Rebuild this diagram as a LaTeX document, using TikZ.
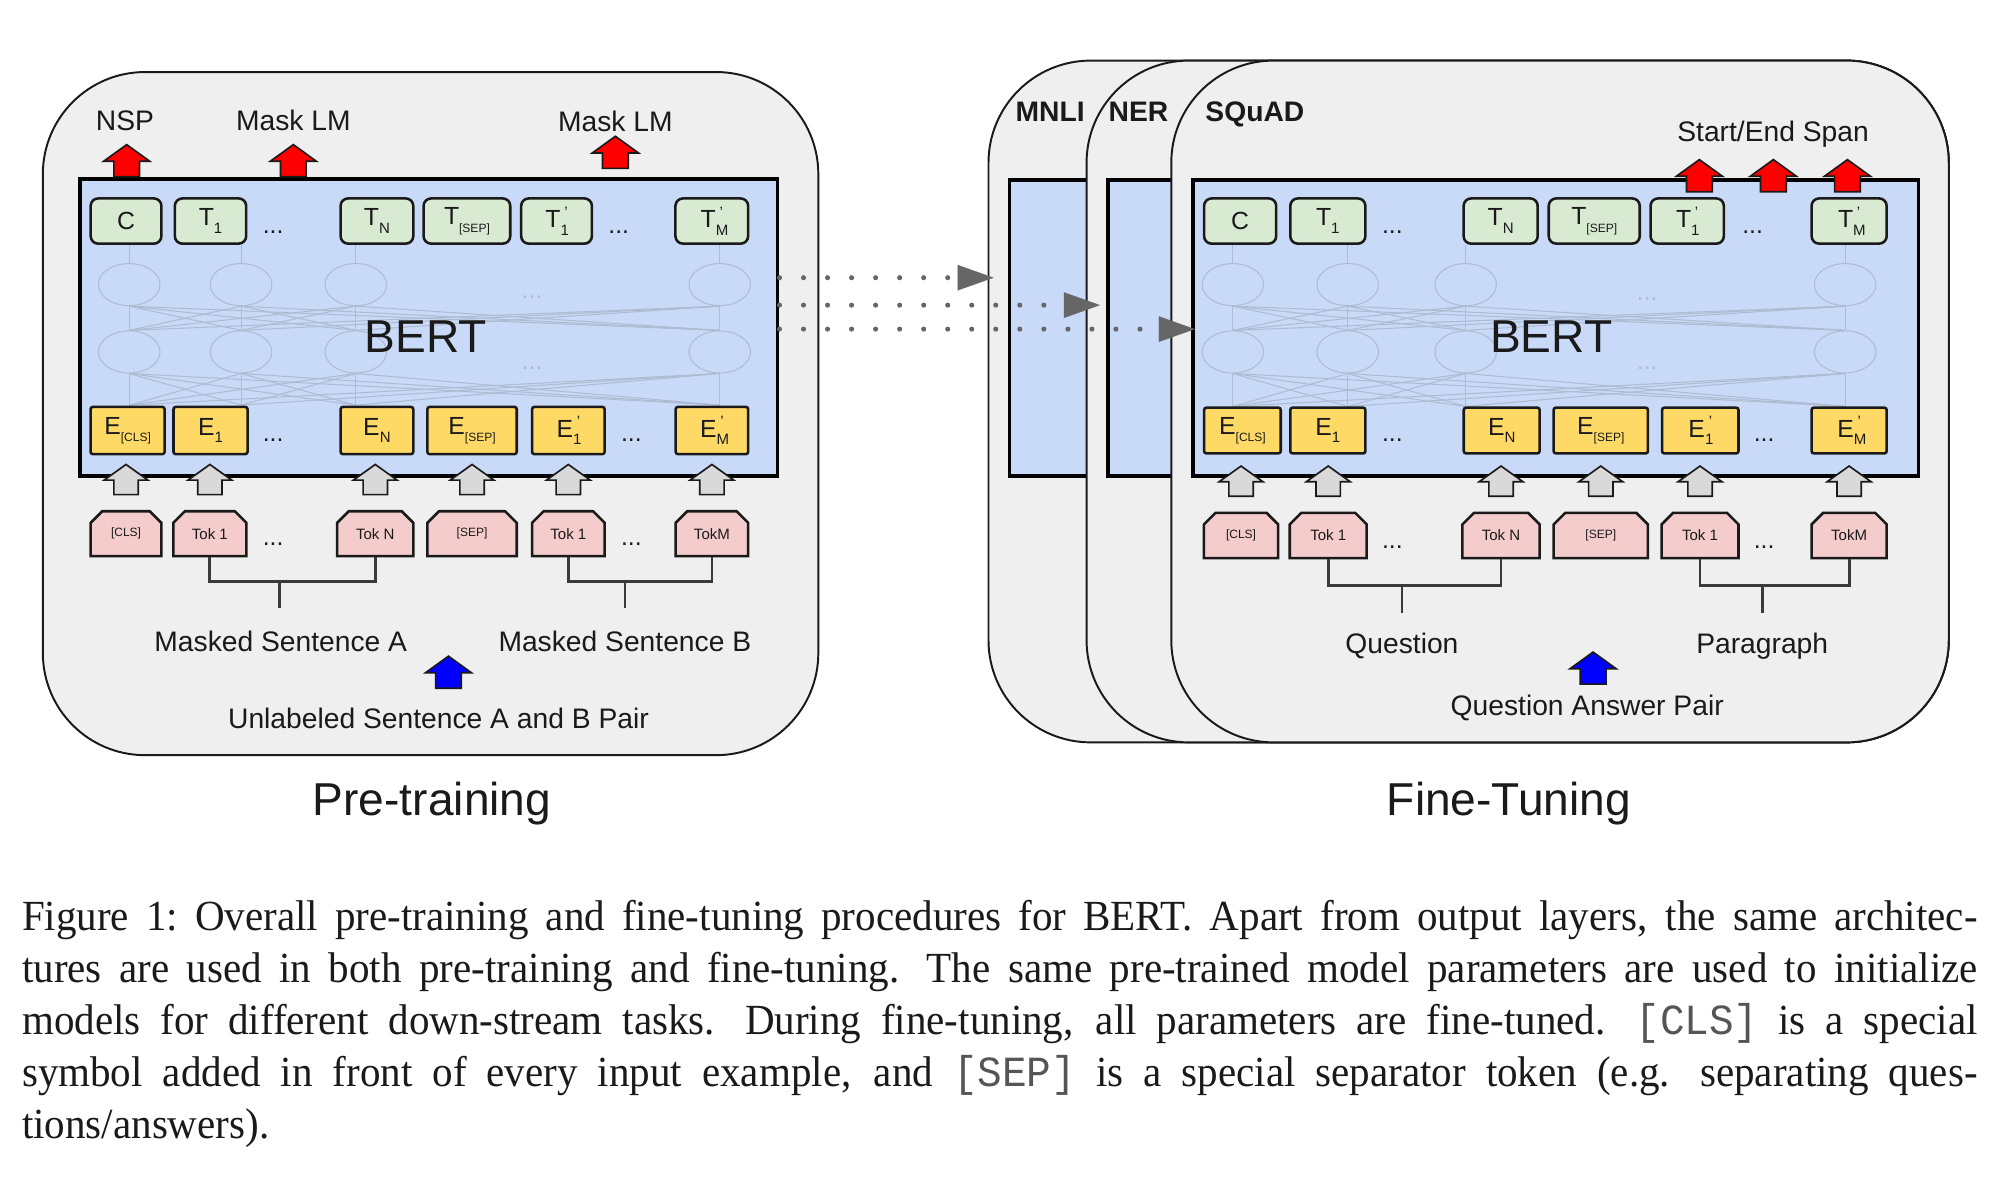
\documentclass[tikz,border=0pt]{standalone}
\usepackage{fontspec}
\setmainfont{Liberation Serif}
\setsansfont{Liberation Sans}
\setmonofont{Liberation Mono}
\newfontfamily\capff[FakeStretch=0.955]{Liberation Serif}
\newfontfamily\capmono[FakeStretch=0.955]{Liberation Mono}
\usetikzlibrary{shapes.misc,shapes.geometric,arrows.meta,calc}
\definecolor{ink}{HTML}{1A1A1A}
\definecolor{boxbg}{HTML}{EFEFEF}
\definecolor{bertbl}{HTML}{C9DAF8}
\definecolor{tgreen}{HTML}{D9EAD3}
\definecolor{eyel}{HTML}{FFD966}
\definecolor{tpink}{HTML}{F4CCCC}
\definecolor{garr}{HTML}{D9D9D9}
\definecolor{netc}{HTML}{AEBBD3}
\definecolor{dotc}{HTML}{666666}
\definecolor{brkc}{HTML}{3A3A3A}
\definecolor{ttc}{HTML}{555555}
\newcommand\fLbl{\sffamily\fontsize{18.8pt}{22pt}\selectfont}
\newcommand\fTask{\sffamily\bfseries\fontsize{18.8pt}{22pt}\selectfont}
\newcommand\fBert{\sffamily\fontsize{30.7pt}{36pt}\selectfont}
\newcommand\fTitle{\sffamily\fontsize{30.7pt}{36pt}\selectfont}
\newcommand\fBox{\sffamily\fontsize{16.5pt}{19pt}\selectfont}
\newcommand\fTok{\sffamily\fontsize{10pt}{12pt}\selectfont}
\newcommand\fCls{\sffamily\fontsize{8pt}{9pt}\selectfont}
\newcommand\fCap{\capff\fontsize{28.6pt}{34.6pt}\selectfont}
\newcommand\capsp{\spaceskip=0.25em plus 0.3em minus 0.08em\relax\xspaceskip=0.45em plus 0.35em minus 0.1em\relax}
\newcommand\capline[1]{\hbox to 1302pt{\capsp #1}}
\newcommand\sbs[1]{\raisebox{-0.3em}{\fontsize{10pt}{11pt}\selectfont #1}}
\newcommand\sbt[1]{\raisebox{-0.3em}{\fontsize{8pt}{9pt}\selectfont #1}}
\newcommand\sbp[1]{\rlap{\sbs{#1}}\raisebox{0.42em}{\fontsize{10pt}{11pt}\selectfont\hspace{0.25em}'}}
\tikzset{
  outerbox/.style={draw=ink, line width=1.3pt, fill=boxbg, rounded corners=68pt, inner sep=0pt},
  bertrect/.style={draw=black, line width=2.5pt, fill=bertbl, inner sep=0pt},
  gbox/.style={draw=ink, line width=1.7pt, fill=tgreen, rounded corners=5pt, minimum height=30.1pt, inner sep=0pt, font=\fBox},
  ybox/.style={draw=ink, line width=1.7pt, fill=eyel, rounded corners=1.5pt, inner sep=0pt, font=\fBox},
  pbox/.style={chamfered rectangle, chamfered rectangle corners={north west,north east}, chamfered rectangle xsep=4pt, chamfered rectangle ysep=4pt, draw=ink, line width=1.7pt, fill=tpink, inner sep=0pt, font=\fTok},
  netell/.style={ellipse, draw=netc, line width=0.7pt, minimum width=41pt, minimum height=28pt, inner sep=0pt},
  netln/.style={draw=netc, line width=0.7pt},
  lbl/.style={font=\fLbl, inner sep=0pt, anchor=base},
  tasklbl/.style={font=\fTask, inner sep=0pt, anchor=base west},
  ttl/.style={font=\fTitle, inner sep=0pt, anchor=base},
  bertlbl/.style={font=\fBert, inner sep=0pt, anchor=base},
  dotsn/.style={font=\fBox, inner sep=0pt, anchor=base},
  netdots/.style={font=\fBox, inner sep=0pt, anchor=base, text=netc},
  brk/.style={draw=brkc, line width=1.9pt},
  dotarr/.style={draw=dotc, line width=3.4pt, line cap=round, dash pattern=on 0pt off 16pt, -{Triangle[length=24pt,width=17pt,line width=0.1pt]}},
  arrR/.style={draw=ink, fill=red, line width=1.1pt},
  arrB/.style={draw=ink, fill=blue, line width=1.1pt},
  arrG/.style={draw=ink, fill=garr, line width=1.1pt, xscale=0.95, yscale=0.94},
  blkup/.pic={\path[pic actions] (-10,0) -- (-10,-12) -- (-18,-12) -- (0,-25) -- (18,-12) -- (10,-12) -- (10,0) -- cycle;}
}
\begin{document}
\begin{tikzpicture}[x=0.3mm,y=-0.3mm, every node/.style={text=ink}]
\useasboundingbox (0,0) rectangle (1560,921);
\fill[white] (0,0) rectangle (1560,921);

% ================= PRE-TRAINING =================
\node[outerbox, minimum width=516.3pt, minimum height=454.8pt] (preBox) at (335.85,322.6) {};
\node[bertrect, minimum width=464.4pt, minimum height=198pt] (bertL) at (334.5,255.5) {};

% network decoration
\foreach \i/\cx in {1/100.8,2/188,3/277.5,4/561.4}{
  \node[netell] (nLa\i) at (\cx,222) {};
  \node[netell] (nLb\i) at (\cx,274.5) {};
  \coordinate (nLt\i) at (\cx,191);
  \coordinate (nLe\i) at (\cx,316);
}
\foreach \i in {1,...,4}{
  \draw[netln] (nLt\i) -- (nLa\i.north);
  \foreach \j in {1,...,4}{
    \draw[netln] (nLa\i.south) -- (nLb\j.north);
    \draw[netln] (nLb\i.south) -- (nLe\j);
  }
}
\node[netdots] (ndL1) at (415,233) {...};
\node[netdots] (ndL2) at (415,288) {...};
\node[bertlbl] (bertLtxt) at (332,274.6) {BERT};

% output tokens
\node[gbox, minimum width=47.1pt] (gL1) at (98.3,172.4) {C};
\node[gbox, minimum width=47.5pt] (gL2) at (164.2,172.4) {T\sbs{1}};
\node[gbox, minimum width=48.4pt] (gL3) at (294,172.4) {T\sbs{N}};
\node[gbox, minimum width=57.7pt] (gL4) at (364.2,172.4) {T\sbt{[SEP]}};
\node[gbox, minimum width=47.1pt] (gL5) at (434.1,172.4) {T\sbp{1}};
\node[gbox, minimum width=48.4pt] (gL6) at (555.2,172.4) {T\sbp{M}};
\node[dotsn] (gLd1) at (213,182) {...};
\node[dotsn] (gLd2) at (482.6,182) {...};

% embeddings
\node[ybox, minimum width=49.3pt, minimum height=31.4pt] (yL1) at (99.5,335.8) {E\sbt{[CLS]}};
\node[ybox, minimum width=49.3pt, minimum height=31.4pt] (yL2) at (164.2,335.8) {E\sbs{1}};
\node[ybox, minimum width=48.4pt, minimum height=31.4pt] (yL3) at (294,335.8) {E\sbs{N}};
\node[ybox, minimum width=59.5pt, minimum height=31.4pt] (yL4) at (368.2,335.8) {E\sbt{[SEP]}};
\node[ybox, minimum width=48.3pt, minimum height=31.4pt] (yL5) at (443.3,335.8) {E\sbp{1}};
\node[ybox, minimum width=48.3pt, minimum height=31.4pt] (yL6) at (555.3,335.8) {E\sbp{M}};
\node[dotsn] (yLd1) at (213,344.5) {...};
\node[dotsn] (yLd2) at (492.5,344.5) {...};

% input tokens
\node[pbox, minimum width=47.1pt, minimum height=29.9pt] (tL1) at (98.3,416.3) {\fCls [CLS]};
\node[pbox, minimum width=48.7pt, minimum height=29.9pt] (tL2) at (163.7,416.3) {Tok 1};
\node[pbox, minimum width=50.7pt, minimum height=29.9pt] (tL3) at (292.7,416.3) {Tok N};
\node[pbox, minimum width=59.5pt, minimum height=29.9pt] (tL4) at (368.2,416.3) {\fCls [SEP]};
\node[pbox, minimum width=48.3pt, minimum height=29.9pt] (tL5) at (443.3,416.3) {Tok 1};
\node[pbox, minimum width=48.3pt, minimum height=29.9pt] (tL6) at (555.3,416.3) {TokM};
\node[dotsn] (tLd1) at (213,425.5) {...};
\node[dotsn] (tLd2) at (492.5,425.5) {...};

% gray arrows
\foreach \k in {1,...,6}{ \pic[arrG] at ($(tL\k.north)+(0,-12)$) {blkup}; }

% red arrows and labels
\pic[arrR] at (98.8,137.8) {blkup};
\pic[arrR] at (228.8,137.8) {blkup};
\pic[arrR] at (480,131.3) {blkup};
\node[lbl] (nspL) at (97.5,101.5) {NSP};
\node[lbl] (mlm1) at (228.8,102) {Mask LM};
\node[lbl] (mlm2) at (480,102.5) {Mask LM};

% brackets
\draw[brk] (tL2.south) -- (tL2.south |- 0,453.7) -| (tL3.south);
\coordinate (sAt) at (218,453.7); \coordinate (sAb) at (218,474.4);
\draw[brk] (sAt) -- (sAb);
\draw[brk] (tL5.south) -- (tL5.south |- 0,453.7) -| (tL6.south);
\coordinate (sBt) at (487.5,453.7); \coordinate (sBb) at (487.5,474.4);
\draw[brk] (sBt) -- (sBb);
\node[lbl] (msA) at (219,508) {Masked Sentence A};
\node[lbl] (msB) at (487.4,508) {Masked Sentence B};
\pic[arrB] at (349.8,536.8) {blkup};
\node[lbl] (unl) at (342,568) {Unlabeled Sentence A and B Pair};
\node[ttl] (preT) at (337,636) {Pre-training};

% ================= FINE-TUNING =================
\node[outerbox, minimum width=639.3pt, minimum height=453.9pt] (mnliBox) at (1145.5,313.15) {};
\node[tasklbl] (mnliL) at (792,95) {MNLI};
\node[bertrect, minimum width=605.2pt, minimum height=197.5pt] (bertM) at (1142,255.8) {};
\node[outerbox, minimum width=574pt, minimum height=453.9pt] (nerBox) at (1183.75,313.15) {};
\node[tasklbl] (nerL) at (864.5,95) {NER};
\node[bertrect, minimum width=539.7pt, minimum height=197.5pt] (bertN) at (1180.35,255.8) {};
\node[outerbox, minimum width=517.6pt, minimum height=453.9pt] (sqBox) at (1216.8,313.15) {};
\node[tasklbl] (sqL) at (940,95) {SQuAD};
\node[bertrect, minimum width=483.1pt, minimum height=197.5pt] (bertR) at (1213.5,255.8) {};

\foreach \i/\cx in {1/961.6,2/1051.2,3/1143.2,4/1439.2}{
  \node[netell] (nRa\i) at (\cx,222) {};
  \node[netell] (nRb\i) at (\cx,274.5) {};
  \coordinate (nRt\i) at (\cx,191);
  \coordinate (nRe\i) at (\cx,317);
}
\foreach \i in {1,...,4}{
  \draw[netln] (nRt\i) -- (nRa\i.north);
  \foreach \j in {1,...,4}{
    \draw[netln] (nRa\i.south) -- (nRb\j.north);
    \draw[netln] (nRb\i.south) -- (nRe\j);
  }
}
\node[netdots] (ndR1) at (1284.8,234) {...};
\node[netdots] (ndR2) at (1284.8,288) {...};
\node[bertlbl] (bertRtxt) at (1210,274.6) {BERT};

\node[gbox, minimum width=48pt] (gR1) at (967.3,172.4) {C};
\node[gbox, minimum width=50pt] (gR2) at (1035.7,172.4) {T\sbs{1}};
\node[gbox, minimum width=49.3pt] (gR3) at (1170.5,172.4) {T\sbs{N}};
\node[gbox, minimum width=60.6pt] (gR4) at (1243.5,172.4) {T\sbt{[SEP]}};
\node[gbox, minimum width=48.8pt] (gR5) at (1316,172.4) {T\sbp{1}};
\node[gbox, minimum width=50pt] (gR6) at (1442.3,172.4) {T\sbp{M}};
\node[dotsn] (gRd1) at (1086,182) {...};
\node[dotsn] (gRd2) at (1367,182) {...};

\node[ybox, minimum width=51pt, minimum height=30.4pt] (yR1) at (969.1,335.8) {E\sbt{[CLS]}};
\node[ybox, minimum width=50pt, minimum height=30.4pt] (yR2) at (1035.7,335.8) {E\sbs{1}};
\node[ybox, minimum width=50.5pt, minimum height=30.4pt] (yR3) at (1171.3,335.8) {E\sbs{N}};
\node[ybox, minimum width=62.8pt, minimum height=30.4pt] (yR4) at (1248.6,335.8) {E\sbt{[SEP]}};
\node[ybox, minimum width=50.9pt, minimum height=30.4pt] (yR5) at (1326.2,335.8) {E\sbp{1}};
\node[ybox, minimum width=50pt, minimum height=30.4pt] (yR6) at (1442.3,335.8) {E\sbp{M}};
\node[dotsn] (yRd1) at (1086,344.5) {...};
\node[dotsn] (yRd2) at (1376,344.5) {...};

\node[pbox, minimum width=49.5pt, minimum height=30.2pt] (tR1) at (968,417.7) {\fCls [CLS]};
\node[pbox, minimum width=51.2pt, minimum height=30.2pt] (tR2) at (1036,417.7) {Tok 1};
\node[pbox, minimum width=51.4pt, minimum height=30.2pt] (tR3) at (1170.8,417.7) {Tok N};
\node[pbox, minimum width=62.8pt, minimum height=30.2pt] (tR4) at (1248.6,417.7) {\fCls [SEP]};
\node[pbox, minimum width=51.2pt, minimum height=30.2pt] (tR5) at (1326,417.7) {Tok 1};
\node[pbox, minimum width=50pt, minimum height=30.2pt] (tR6) at (1442.3,417.7) {TokM};
\node[dotsn] (tRd1) at (1086,428) {...};
\node[dotsn] (tRd2) at (1376,428) {...};

\foreach \k in {1,...,6}{ \pic[arrG] at ($(tR\k.north)+(0,-12)$) {blkup}; }

\pic[arrR] at (1325.5,149.5) {blkup};
\pic[arrR] at (1383.2,149.5) {blkup};
\pic[arrR] at (1441,149.5) {blkup};
\node[lbl] (span) at (1383,110.5) {Start/End Span};

\draw[brk] (tR2.south) -- (tR2.south |- 0,457) -| (tR3.south);
\coordinate (sQt) at (1093.5,457); \coordinate (sQb) at (1093.5,478);
\draw[brk] (sQt) -- (sQb);
\draw[brk] (tR5.south) -- (tR5.south |- 0,457) -| (tR6.south);
\coordinate (sPt) at (1374.5,457); \coordinate (sPb) at (1374.5,478);
\draw[brk] (sPt) -- (sPb);
\node[lbl] (ques) at (1093.5,510) {Question};
\node[lbl] (para) at (1374.5,510) {Paragraph};
\pic[arrB] at (1242.6,533.6) {blkup};
\node[lbl] (qap) at (1238,558) {Question Answer Pair};
\node[ttl] (fineT) at (1177,636) {Fine-Tuning};

% dotted transfer arrows
\coordinate (dA) at (775,216.6);
\coordinate (dB) at (858,238);
\coordinate (dC) at (932,256.7);
\draw[dotarr] (bertL.east |- dA) -- (dA);
\draw[dotarr] (bertL.east |- dB) -- (dB);
\draw[dotarr] (bertL.east |- dC) -- (dC);

% caption
\node[anchor=north west, inner sep=0pt, font=\fCap, text width=1302pt] (caption) at (17,702) {%
\capline{Figure 1:\ Overall pre-training and fine-tuning procedures for BERT. Apart from output layers, the same architec-}
\capline{tures are used in both pre-training and fine-tuning. The same pre-trained model parameters are used to initialize}
\capline{models for different down-stream tasks. During fine-tuning, all parameters are fine-tuned. \textcolor{ttc}{\capmono [CLS]} is a special}
\capline{symbol added in front of every input example, and \textcolor{ttc}{\capmono [SEP]} is a special separator token (e.g. separating ques-}
\hbox{tions/answers).}};
\end{tikzpicture}
\end{document}
